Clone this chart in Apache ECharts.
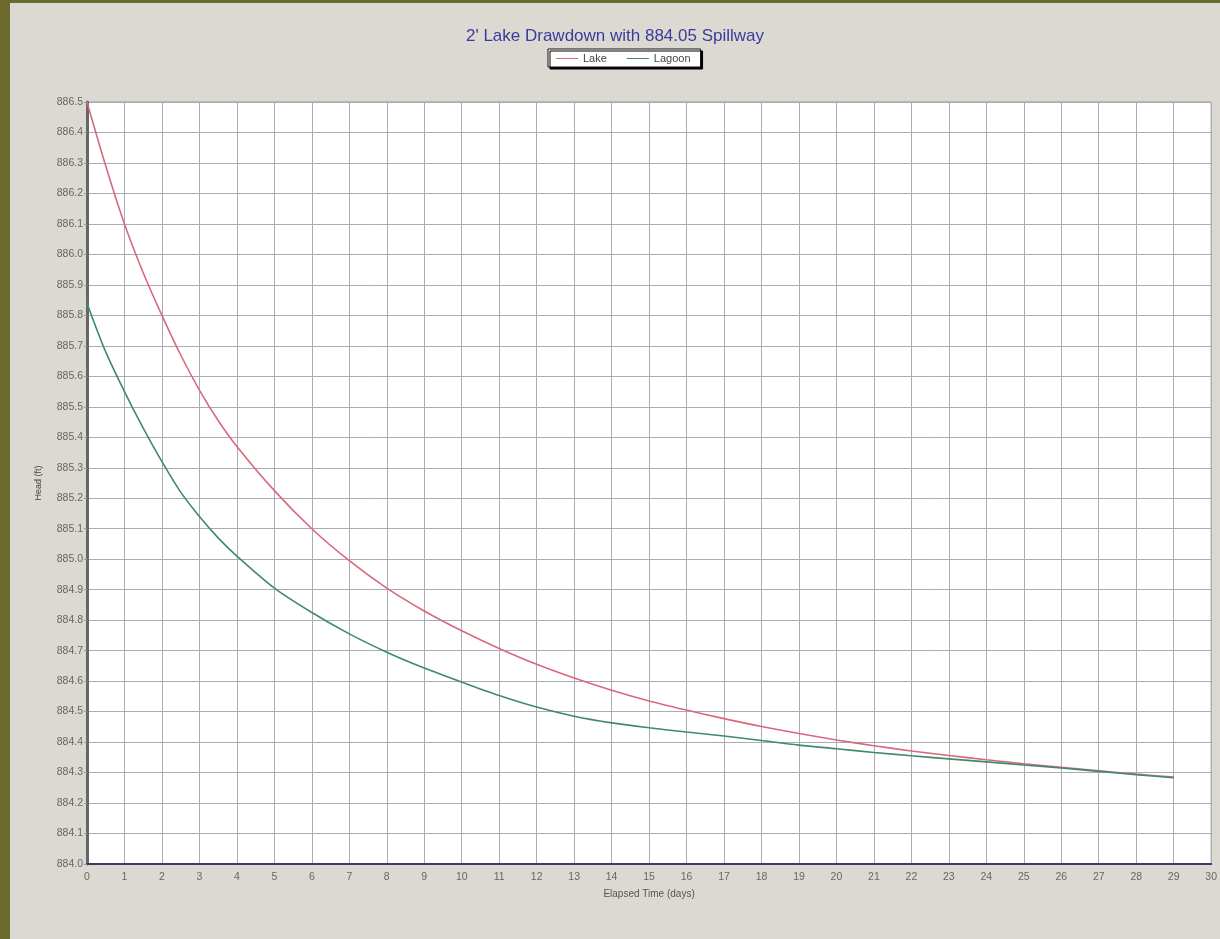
<!DOCTYPE html>
<html>
<head>
<meta charset="utf-8">
<script src="https://cdn.jsdelivr.net/npm/echarts@6/dist/echarts.min.js"></script>
<style>
  html, body { margin:0; padding:0; width:1220px; height:939px; background:#6d6a2e; overflow:hidden; }
  #chart { position:absolute; left:10px; top:3px; width:1210px; height:936px; background:#dcd9d2; }
</style>
</head>
<body>
<div id="chart"></div>
<script>
const titleText = "2' Lake Drawdown with 884.05 Spillway";
const seriesNames = ['Lake', 'Lagoon'];
const days = [0, 0.5, 1, 1.5, 2, 2.5, 3, 3.5, 4, 5, 6, 7, 8, 9, 10, 11, 12, 13, 14, 15, 16, 17, 18, 19, 20, 21, 22, 23, 24, 25, 26, 27, 28, 29];
const lake = [886.50, 886.29, 886.10, 885.94, 885.80, 885.67, 885.555, 885.455, 885.37, 885.225, 885.10, 884.995, 884.905, 884.83, 884.765, 884.707, 884.655, 884.61, 884.57, 884.535, 884.505, 884.477, 884.451, 884.428, 884.407, 884.388, 884.371, 884.356, 884.342, 884.329, 884.317, 884.306, 884.295, 884.285];
const lagoon = [885.84, 885.68, 885.55, 885.43, 885.32, 885.22, 885.14, 885.07, 885.01, 884.905, 884.825, 884.755, 884.695, 884.643, 884.597, 884.553, 884.515, 884.485, 884.463, 884.447, 884.433, 884.42, 884.405, 884.39, 884.378, 884.366, 884.355, 884.345, 884.335, 884.325, 884.315, 884.304, 884.293, 884.283];
const xName = 'Elapsed Time (days)';
const yName = 'Head (ft)';

const pairs = (ys) => days.map((d, i) => [d, ys[i]]);
const font = 'Liberation Sans, Arial, sans-serif';

const chart = echarts.init(document.getElementById('chart'));
chart.setOption({
  backgroundColor: '#dcd9d2',
  animation: false,
  title: {
    text: titleText, left: 'center', top: 20,
    textStyle: { color: '#3b3b9e', fontSize: 17, fontWeight: 'normal', fontFamily: font }
  },
  legend: {
    data: seriesNames, left: 538, top: 46, icon: 'rect',
    backgroundColor: '#ffffff', borderColor: '#111', borderWidth: 1,
    padding: [4, 10, 3, 8], itemGap: 20, itemWidth: 22, itemHeight: 1,
    shadowColor: '#000', shadowOffsetX: 2, shadowOffsetY: 2, shadowBlur: 0,
    textStyle: { color: '#444', fontSize: 11, fontFamily: font }
  },
  grid: {
    left: 77, right: 4, top: 99, bottom: 75,
    show: true, backgroundColor: '#ffffff', borderColor: '#9a9aa0', borderWidth: 1
  },
  xAxis: {
    type: 'value', min: 0, max: 30, interval: 1,
    name: xName, nameLocation: 'middle', nameGap: 25,
    nameTextStyle: { color: '#555', fontSize: 10, fontFamily: font },
    axisLine: { show: true, onZero: false, lineStyle: { color: '#3e3a62', width: 2 } },
    axisTick: { show: false },
    axisLabel: { color: '#666', fontSize: 10.5, fontFamily: font, margin: 8 },
    splitLine: { show: true, lineStyle: { color: '#ababb6', width: 1 } }
  },
  yAxis: {
    type: 'value', min: 884.0, max: 886.5, interval: 0.1,
    name: yName, nameLocation: 'middle', nameGap: 44, nameRotate: 90,
    nameTextStyle: { color: '#444', fontSize: 9, fontFamily: font },
    axisLine: { show: true, lineStyle: { color: '#666', width: 3 } },
    axisTick: { show: true, length: 3, lineStyle: { color: '#999' } },
    axisLabel: { color: '#666', fontSize: 10.5, fontFamily: font, margin: 4,
      formatter: v => v.toFixed(1) },
    splitLine: { show: true, lineStyle: { color: '#ababb6', width: 1 } }
  },
  series: [
    { name: seriesNames[0], type: 'line', data: pairs(lake), symbol: 'none', smooth: 0.3,
      lineStyle: { color: '#d8687c', width: 1.6 }, itemStyle: { color: '#d8687c' } },
    { name: seriesNames[1], type: 'line', data: pairs(lagoon), symbol: 'none', smooth: 0.3,
      lineStyle: { color: '#3f8a6c', width: 1.6 }, itemStyle: { color: '#3f8a6c' } }
  ]
});
</script>
</body>
</html>
